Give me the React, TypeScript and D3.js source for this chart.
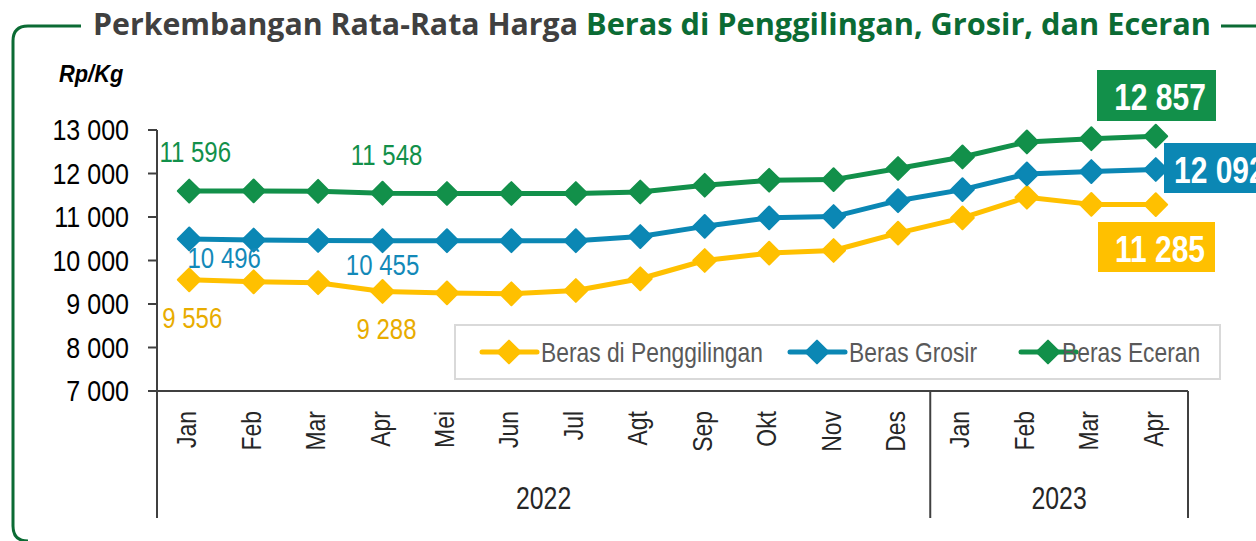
import React from "react";
import * as d3 from "d3";

const months = ["Jan","Feb","Mar","Apr","Mei","Jun","Jul","Agt","Sep","Okt","Nov","Des","Jan","Feb","Mar","Apr"];
const years = [{ label: "2022", from: 0, to: 12 }, { label: "2023", from: 12, to: 16 }];
const yTicks = [7000, 8000, 9000, 10000, 11000, 12000, 13000];

const penggilingan = [9556, 9510, 9490, 9288, 9255, 9235, 9310, 9580, 10000, 10170, 10230, 10630, 10980, 11455, 11290, 11285];
const grosir = [10496, 10470, 10460, 10455, 10455, 10455, 10455, 10550, 10785, 10980, 11010, 11375, 11630, 11990, 12045, 12092];
const eceran = [11596, 11600, 11590, 11548, 11540, 11540, 11540, 11575, 11730, 11845, 11860, 12115, 12380, 12725, 12800, 12857];

const seriesNames = ["Beras di Penggilingan", "Beras Grosir", "Beras Eceran"];

const fmt = (v: number) => {
  const s = String(v);
  return s.length > 3 ? s.slice(0, s.length - 3) + " " + s.slice(-3) : s;
};

const SANS = "'Liberation Sans', Arial, sans-serif";

type NTProps = {
  x: number; y: number; size: number; sx?: number; anchor?: string; weight?: number;
  fill?: string; rotate?: number; italic?: boolean; dy?: string; children: React.ReactNode;
};
function NText({ x, y, size, sx = 0.82, anchor = "start", weight = 400, fill = "#000", rotate = 0, italic = false, dy, children }: NTProps) {
  return (
    <text
      transform={`translate(${x},${y}) rotate(${rotate}) scale(${sx},1)`}
      textAnchor={anchor}
      fontFamily={SANS}
      fontSize={size}
      fontWeight={weight}
      fontStyle={italic ? "italic" : "normal"}
      fill={fill}
      dy={dy}
    >
      {children}
    </text>
  );
}

export default function App() {
  const W = 1256, H = 541;
  const x = d3.scaleBand<number>().domain(d3.range(months.length)).range([157, 1188]).padding(0);
  const cx = (i: number) => (x(i) as number) + x.bandwidth() / 2;
  const xEdge = (i: number) => (i >= months.length ? 1188 : (x(i) as number));
  const y = d3.scaleLinear().domain([7000, 13000]).range([391, 130]);

  const series = [
    { name: seriesNames[0], data: penggilingan, color: "#ffc000", text: "#e8ac00" },
    { name: seriesNames[1], data: grosir, color: "#0b87b4", text: "#1389b8" },
    { name: seriesNames[2], data: eceran, color: "#12904a", text: "#12904a" },
  ];

  const line = d3.line<number>().x((_, i) => cx(i)).y((v) => y(v));
  const diamond = d3.symbol(d3.symbolSquare, 260)()!;
  const last = months.length - 1;

  // point labels: [series index, point index, dx, dy]
  const ptLabels: [number, number, number, number][] = [
    [2, 0, 6, -29], [2, 3, 4, -28],
    [1, 0, 35, 29], [1, 3, 0, 34],
    [0, 0, 3, 48], [0, 3, 4, 48],
  ];

  return (
    <svg width={W} height={H} style={{ display: "block", position: "absolute", left: 0, top: 0 }}>
      <rect width={W} height={H} fill="#fff" />
      {/* frame */}
      <path d="M 81 26 L 28 26 Q 13 26 13 41 L 13 526 Q 13 541 28 541" fill="none" stroke="#0b6b34" strokeWidth={3} />
      <line x1={1221} y1={26} x2={1256} y2={26} stroke="#0b6b34" strokeWidth={3} />
      {/* title */}
      <text x={93} y={35} fontFamily="'Open Sans', 'Noto Sans', sans-serif" fontWeight={700} fontSize={30} fill="#404040" textLength={485} lengthAdjust="spacingAndGlyphs">Perkembangan Rata-Rata Harga</text>
      <text x={586} y={35} fontFamily="'Open Sans', 'Noto Sans', sans-serif" fontWeight={700} fontSize={30} fill="#0b6b34" textLength={625} lengthAdjust="spacingAndGlyphs">Beras di Penggilingan, Grosir, dan Eceran</text>
      <NText x={59} y={82} size={23} sx={0.95} weight={700} italic>Rp/Kg</NText>

      {/* y axis */}
      <line x1={157} y1={130} x2={157} y2={391} stroke="#404040" strokeWidth={2} />
      {yTicks.map((t) => (
        <g key={t}>
          <line x1={148} x2={157} y1={y(t)} y2={y(t)} stroke="#404040" strokeWidth={2} />
          <NText x={129} y={y(t) + 10} size={30} sx={0.835} anchor="end">{fmt(t)}</NText>
        </g>
      ))}

      {/* x axis */}
      <line x1={157} y1={391} x2={1188} y2={391} stroke="#404040" strokeWidth={2} />
      {[0, 12, 16].map((i) => (
        <line key={i} x1={xEdge(i)} x2={xEdge(i)} y1={391} y2={518} stroke="#404040" strokeWidth={2} />
      ))}
      {months.map((m, i) => (
        <NText key={i} x={cx(i) + 7} y={411} rotate={-90} size={28} anchor="end" fill="#262626">{m}</NText>
      ))}
      {years.map((yr) => (
        <NText key={yr.label} x={(xEdge(yr.from) + xEdge(yr.to)) / 2} y={509} size={31} sx={0.8} anchor="middle" fill="#262626">{yr.label}</NText>
      ))}

      {/* legend */}
      <rect x={455} y={325} width={765} height={54} fill="#fff" stroke="#d9d9d9" strokeWidth={2} />
      {series.map((s, k) => {
        const lx = [482, 790, 1021][k];
        const tx = [541, 849, 1062][k];
        return (
          <g key={s.name}>
            <line x1={lx} x2={lx + 55} y1={352} y2={352} stroke={s.color} strokeWidth={5} strokeLinecap="round" />
            <path d={diamond} transform={`translate(${lx + 27},352) rotate(45)`} fill={s.color} stroke={s.color} strokeWidth={2} strokeLinejoin="round" />
            <NText x={tx} y={362} size={27} sx={0.845} fill="#595959">{s.name}</NText>
          </g>
        );
      })}

      {/* series */}
      {series.map((s) => (
        <g key={s.name}>
          <path d={line(s.data)!} fill="none" stroke={s.color} strokeWidth={5} strokeLinejoin="round" />
          {s.data.map((v, i) => (
            <path key={i} d={diamond} transform={`translate(${cx(i)},${y(v)}) rotate(45)`} fill={s.color} stroke={s.color} strokeWidth={2} strokeLinejoin="round" />
          ))}
        </g>
      ))}

      {/* point labels */}
      {ptLabels.map(([si, pi, dx, dy], k) => {
        const s = series[si];
        return (
          <NText key={k} x={cx(pi) + dx} y={y(s.data[pi]) + dy} size={30} sx={0.8} anchor="middle" fill={s.text}>{fmt(s.data[pi])}</NText>
        );
      })}

      {/* last value boxes */}
      <rect x={1097} y={70} width={119} height={51} fill={series[2].color} />
      <NText x={1160} y={110} size={37} sx={0.81} weight={700} anchor="middle" fill="#fff">{fmt(eceran[last])}</NText>
      <rect x={1164} y={143} width={100} height={50} fill={series[1].color} />
      <NText x={1174} y={183} size={37} sx={0.81} weight={700} fill="#fff">{fmt(grosir[last])}</NText>
      <rect x={1098} y={222} width={117} height={50} fill={series[0].color} />
      <NText x={1160} y={262} size={37} sx={0.81} weight={700} anchor="middle" fill="#fff">{fmt(penggilingan[last])}</NText>
    </svg>
  );
}
